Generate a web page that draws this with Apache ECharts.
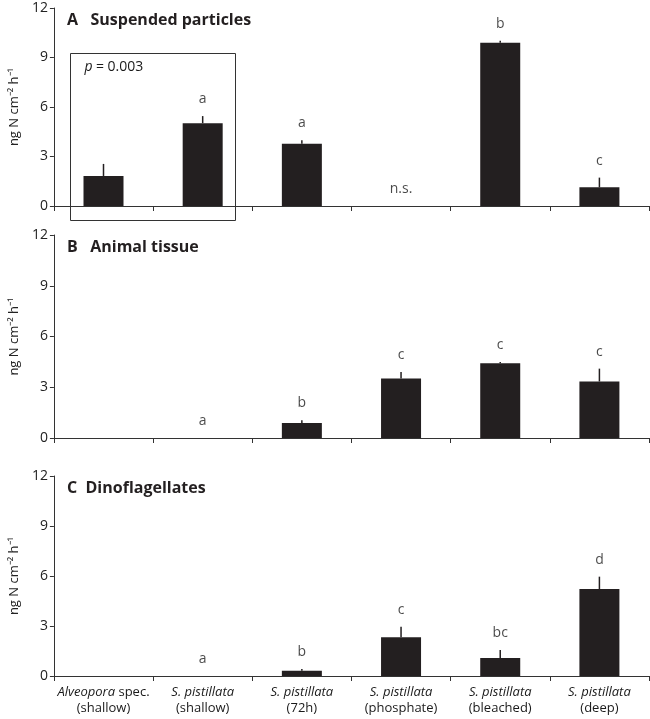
<!DOCTYPE html>
<html><head><meta charset="utf-8">
<script src="https://cdn.jsdelivr.net/npm/echarts@6/dist/echarts.min.js"></script>
<style>html,body{margin:0;padding:0;background:#fff}#c{width:650px;height:719px}</style>
</head><body><div id="c"></div>
<script>
const categories = ['Alveopora spec. (shallow)', 'S. pistillata (shallow)', 'S. pistillata (72h)', 'S. pistillata (phosphate)', 'S. pistillata (bleached)', 'S. pistillata (deep)'];
const yTicks = [0, 3, 6, 9, 12];
const panelTitles = ['A   Suspended particles', 'B   Animal tissue', 'C  Dinoflagellates'];

const particlesMean = [1.82, 5.02, 3.77, 0, 9.9, 1.13];
const particlesSE = [0.73, 0.43, 0.21, 0, 0.12, 0.59];
const particlesLetters = ['', 'a', 'a', 'n.s.', 'b', 'c'];

const tissueMean = [0, 0, 0.89, 3.51, 4.42, 3.34];
const tissueSE = [0, 0, 0.16, 0.39, 0.08, 0.76];
const tissueLetters = ['', 'a', 'b', 'c', 'c', 'c'];

const dinoMean = [0, 0, 0.32, 2.32, 1.08, 5.22];
const dinoSE = [0, 0, 0.1, 0.64, 0.48, 0.74];
const dinoLetters = ['', 'a', 'b', 'c', 'bc', 'd'];

const pValueText = '0.003';

const FONT = 'Open Sans';
const INK = '#231f20';
const panels = [
  {mean: particlesMean, se: particlesSE, letters: particlesLetters, top: 8, height: 198},
  {mean: tissueMean, se: tissueSE, letters: tissueLetters, top: 235, height: 203},
  {mean: dinoMean, se: dinoSE, letters: dinoLetters, top: 476, height: 200}
];

const chart = echarts.init(document.getElementById('c'));
const grid = [], xAxis = [], yAxis = [], series = [], title = [];

panels.forEach((p, i) => {
  grid.push({left: 50, right: 1, top: p.top, height: p.height, containLabel: false});
  xAxis.push({
    type: 'category', gridIndex: i, data: categories,
    axisLine: {lineStyle: {color: '#333', width: 1}},
    axisTick: {show: true, length: 5, lineStyle: {color: '#333'}},
    axisLabel: {
      show: i === 2, interval: 0, margin: 8, lineHeight: 16,
      formatter: function (v) {
        const m = v.match(/^(.*?)\s*\((.*)\)$/);
        let name = m[1], cond = m[2];
        let first;
        if (name.indexOf('spec.') >= 0) {
          first = '{i|' + name.replace(' spec.', '') + '}{n| spec.}';
        } else {
          first = '{i|' + name + '}';
        }
        return first + '\n{n|(' + cond + ')}';
      },
      rich: {
        i: {fontFamily: FONT, fontStyle: 'italic', fontSize: 13, color: '#1a1a1a', lineHeight: 16},
        n: {fontFamily: FONT, fontSize: 13, color: '#1a1a1a', lineHeight: 16}
      }
    }
  });
  yAxis.push({
    type: 'value', gridIndex: i, min: yTicks[0], max: yTicks[yTicks.length - 1], interval: 3,
    splitLine: {show: false},
    axisLine: {show: true, lineStyle: {color: '#333'}},
    axisTick: {show: true, length: 4, lineStyle: {color: '#333'}},
    axisLabel: {fontFamily: FONT, fontSize: 14, color: '#222', margin: 6},
    name: 'ng N cm⁻² h⁻¹', nameLocation: 'middle', nameGap: 30, nameRotate: 90,
    nameTextStyle: {fontFamily: FONT, fontSize: 13, color: '#222'}
  });
  title.push({
    text: panelTitles[i], left: 62, top: p.top - 1,
    textStyle: {fontFamily: FONT, fontWeight: 'bold', fontSize: 16, color: INK}
  });
  series.push({
    type: 'bar', xAxisIndex: i, yAxisIndex: i, data: p.mean, barWidth: 40,
    itemStyle: {color: INK}, silent: true, z: 2
  });
  series.push({
    type: 'custom', xAxisIndex: i, yAxisIndex: i, z: 3,
    data: p.mean.map((m, k) => [k, m, m + p.se[k]]),
    renderItem: function (params, api) {
      if (api.value(2) <= api.value(1)) return null;
      const a = api.coord([api.value(0), api.value(1)]);
      const b = api.coord([api.value(0), api.value(2)]);
      return {type: 'line', shape: {x1: a[0], y1: a[1], x2: b[0], y2: b[1]}, style: {stroke: INK, lineWidth: 1.5}};
    }
  });
  series.push({
    type: 'scatter', xAxisIndex: i, yAxisIndex: i, symbolSize: 0, silent: true, z: 4,
    data: p.mean.map((m, k) => ({value: [k, m + p.se[k]], label: {formatter: p.letters[k]}})),
    label: {show: true, position: 'top', distance: 10, fontFamily: FONT, fontSize: 14, color: '#1a1a1a'}
  });
});

chart.setOption({animation: false, title, grid, xAxis, yAxis, series});

// annotation box around the first two groups of panel A
const tl = chart.convertToPixel({xAxisIndex: 0, yAxisIndex: 0}, [0, 9.3]);
const br = chart.convertToPixel({xAxisIndex: 0, yAxisIndex: 0}, [1, -0.85]);
const x0 = Math.round(tl[0] - 34) + 0.5, x1 = Math.round(br[0] + 32) + 0.5;
const y0 = Math.round(tl[1]) + 0.5, y1 = Math.round(br[1]) + 0.5;
chart.setOption({
  graphic: [
    {type: 'rect', shape: {x: x0, y: y0, width: x1 - x0, height: y1 - y0},
     style: {fill: 'none', stroke: '#333', lineWidth: 1}, z: 10},
    {type: 'text', left: x0 + 14, top: y0 + 7,
     style: {text: '{i|p} {n|= ' + pValueText + '}',
       rich: {i: {fontFamily: FONT, fontStyle: 'italic', fontSize: 14, fill: '#1a1a1a'},
              n: {fontFamily: FONT, fontSize: 14, fill: '#1a1a1a'}}}, z: 10}
  ]
});
</script></body></html>
